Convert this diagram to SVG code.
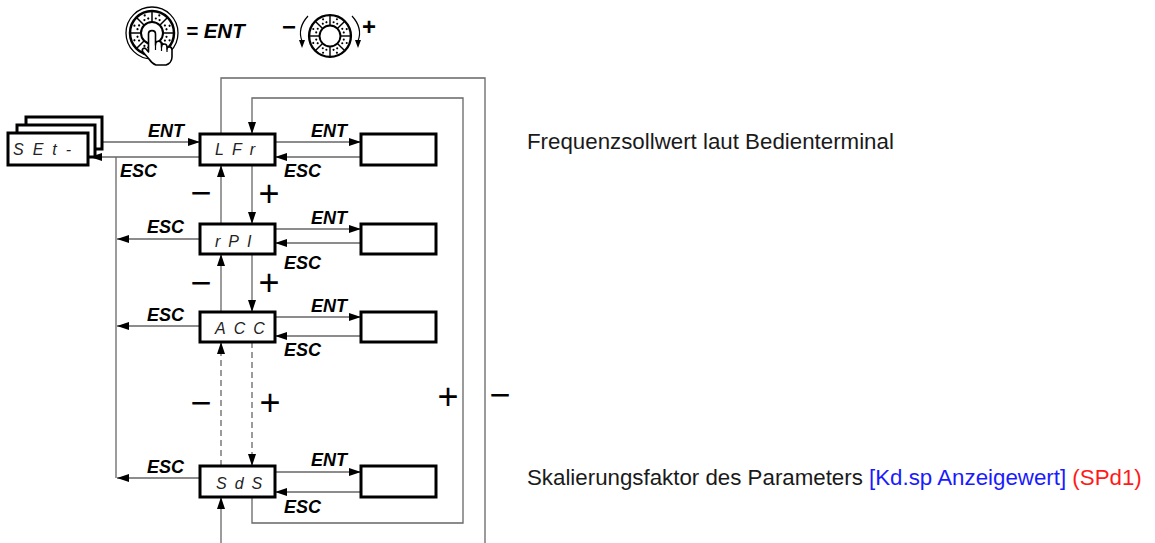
<svg xmlns="http://www.w3.org/2000/svg" xmlns:xlink="http://www.w3.org/1999/xlink" width="1155" height="543" viewBox="0 0 1155 543">
<style>
.bx{fill:#fff;stroke:#000;stroke-width:3}
.ln{fill:none;stroke:#666;stroke-width:1.3}
.ds{fill:none;stroke:#666;stroke-width:1.3;stroke-dasharray:6 4}
.lb{font-family:"Liberation Sans",Arial,sans-serif;font-weight:bold;font-style:italic;font-size:18px;fill:#000}
.seg{font-family:"Liberation Sans",Arial,sans-serif;font-style:italic;font-size:16px;fill:#222;letter-spacing:8px}
.pm{font-family:"Liberation Sans",Arial,sans-serif;font-size:36px;fill:#000;text-anchor:middle}
.tx{font-family:"Liberation Sans",Arial,sans-serif;font-size:22.3px;fill:#1a1a1a}
</style>
<defs>
<marker id="ah" markerUnits="userSpaceOnUse" markerWidth="12" markerHeight="8" refX="12" refY="4" orient="auto">
<path d="M0,0 L12,4 L0,8 z" fill="#000"/>
</marker>
<g id="sg">
<line x1="0" y1="-11" x2="0" y2="-22" stroke="#000" stroke-width="1.5"/>
<circle cx="3.8" cy="-14.5" r="1.1" fill="#000"/>
<circle cx="7.6" cy="-12.9" r="1.1" fill="#000"/>
<circle cx="7.3" cy="-17.6" r="1.1" fill="#000"/>
</g>
<g id="dial">
<circle r="22" fill="#fff" stroke="#000" stroke-width="2.5"/>
<circle r="11" fill="#fff" stroke="#000" stroke-width="2"/>
<use xlink:href="#sg"/>
<use xlink:href="#sg" transform="rotate(45)"/>
<use xlink:href="#sg" transform="rotate(90)"/>
<use xlink:href="#sg" transform="rotate(135)"/>
<use xlink:href="#sg" transform="rotate(180)"/>
<use xlink:href="#sg" transform="rotate(225)"/>
<use xlink:href="#sg" transform="rotate(270)"/>
<use xlink:href="#sg" transform="rotate(315)"/>
</g>
</defs>
<rect width="1155" height="543" fill="#fff"/>

<g id="legend">
<circle cx="152" cy="33" r="26" fill="#fff" stroke="#000" stroke-width="1.3"/>
<use xlink:href="#dial" transform="translate(152,33)"/>
<path d="M148.5,52 L148.5,34 C148.5,29.5 155.5,29.5 155.5,34 L155.5,45 C155.5,40 161.5,40 161.5,45 L161.5,47 C161.5,43 167,43 167,47 L167,49 C167,46 172,46 172,50 L172,57 C172,61 169,64 166,65 L156,65 C153,64 151,62 149,59 L143,52 C141,49 144,47 146,49 L148.5,52 Z" fill="#fff" stroke="#000" stroke-width="1.6" stroke-linejoin="round"/>
<path d="M155.5,45 V50 M161.5,47 V51 M167,49 V52" stroke="#000" stroke-width="1.2" fill="none"/>
<text x="186" y="38" style="font-family:'Liberation Sans',Arial,sans-serif;font-weight:bold;font-style:italic;font-size:20.5px">= ENT</text>
<text x="289" y="35" class="pm" style="font-size:24px;font-weight:bold">−</text>
<path d="M308,16 Q297,28 302,41" fill="none" stroke="#000" stroke-width="1.2"/>
<polygon points="299,40 305,40 302,48" fill="#000"/>
<use xlink:href="#dial" transform="translate(330,36) scale(0.95)"/>
<path d="M352,16 Q363,28 358,41" fill="none" stroke="#000" stroke-width="1.2"/>
<polygon points="355,40 361,40 358,48" fill="#000"/>
<text x="369" y="35" class="pm" style="font-size:24px;font-weight:bold">+</text>
</g>

<g id="connectors">
<path class="ln" d="M221,134 V78 H485 V543"/>
<path class="ln" d="M252,497 V523 H463 V98 H252 V134" marker-end="url(#ah)"/>
<path class="ln" d="M116,157 V478"/>
<path class="ln" d="M102,142 H200" marker-end="url(#ah)"/>
<path class="ln" d="M200,157 H90" marker-end="url(#ah)"/>
<path class="ln" d="M200,239 H117" marker-end="url(#ah)"/>
<path class="ln" d="M200,326 H117" marker-end="url(#ah)"/>
<path class="ln" d="M200,478 H117" marker-end="url(#ah)"/>
<path class="ln" d="M275,142 H361" marker-end="url(#ah)"/>
<path class="ln" d="M361,157 H275" marker-end="url(#ah)"/>
<path class="ln" d="M275,229 H361" marker-end="url(#ah)"/>
<path class="ln" d="M361,243 H275" marker-end="url(#ah)"/>
<path class="ln" d="M275,317 H361" marker-end="url(#ah)"/>
<path class="ln" d="M361,336 H275" marker-end="url(#ah)"/>
<path class="ln" d="M275,472 H361" marker-end="url(#ah)"/>
<path class="ln" d="M361,492 H275" marker-end="url(#ah)"/>
<path class="ln" d="M221,224 V165" marker-end="url(#ah)"/>
<path class="ln" d="M252,165 V224" marker-end="url(#ah)"/>
<path class="ln" d="M221,312 V254" marker-end="url(#ah)"/>
<path class="ln" d="M252,254 V312" marker-end="url(#ah)"/>
<path class="ds" d="M221,466 V342" marker-end="url(#ah)"/>
<path class="ds" d="M252,342 V466" marker-end="url(#ah)"/>
<path class="ln" d="M221,543 V497" marker-end="url(#ah)"/>
<text class="lb" x="148" y="137">ENT</text>
<text class="lb" x="120" y="177">ESC</text>
<text class="lb" x="311" y="137">ENT</text>
<text class="lb" x="284" y="177">ESC</text>
<text class="lb" x="147" y="233">ESC</text>
<text class="lb" x="311" y="224">ENT</text>
<text class="lb" x="284" y="269">ESC</text>
<text class="lb" x="147" y="321">ESC</text>
<text class="lb" x="311" y="312">ENT</text>
<text class="lb" x="284" y="356">ESC</text>
<text class="lb" x="147" y="473">ESC</text>
<text class="lb" x="311" y="466">ENT</text>
<text class="lb" x="284" y="513">ESC</text>
<text class="pm" x="201" y="205">−</text>
<text class="pm" x="269" y="206">+</text>
<text class="pm" x="201" y="295">−</text>
<text class="pm" x="269" y="295">+</text>
<text class="pm" x="201" y="415">−</text>
<text class="pm" x="270" y="415">+</text>
<text class="pm" x="448" y="409">+</text>
<text class="pm" x="500" y="407">−</text>
</g>

<g id="node-set">
<rect class="bx" x="26" y="117" width="76" height="32"/>
<rect class="bx" x="17" y="125" width="78" height="32"/>
<rect class="bx" x="8" y="133" width="80" height="32"/>
<text class="seg" x="13" y="155" style="letter-spacing:9px">SEt-</text>
</g>
<g id="node-lfr">
<rect class="bx" x="200" y="134" width="75" height="31"/>
<text class="seg" x="215" y="155">LFr</text>
</g>
<g id="val-lfr"><rect class="bx" x="361" y="134" width="75" height="31"/></g>
<g id="node-rpi">
<rect class="bx" x="200" y="224" width="75" height="30"/>
<text class="seg" x="215" y="247">rPI</text>
</g>
<g id="val-rpi"><rect class="bx" x="361" y="224" width="75" height="30"/></g>
<g id="node-acc">
<rect class="bx" x="200" y="312" width="75" height="30"/>
<text class="seg" x="215" y="334">ACC</text>
</g>
<g id="val-acc"><rect class="bx" x="361" y="312" width="75" height="30"/></g>
<g id="node-sds">
<rect class="bx" x="200" y="466" width="75" height="31"/>
<text class="seg" x="216" y="489">SdS</text>
</g>
<g id="val-sds"><rect class="bx" x="361" y="466" width="75" height="31"/></g>

<g id="notes">
<text class="tx" x="527" y="149">Frequenzsollwert laut Bedienterminal</text>
<text class="tx" x="527" y="485">Skalierungsfaktor des Parameters <tspan fill="#1a1aff">[Kd.sp Anzeigewert]</tspan> <tspan fill="#ff1a1a">(SPd1)</tspan></text>
</g>
</svg>
